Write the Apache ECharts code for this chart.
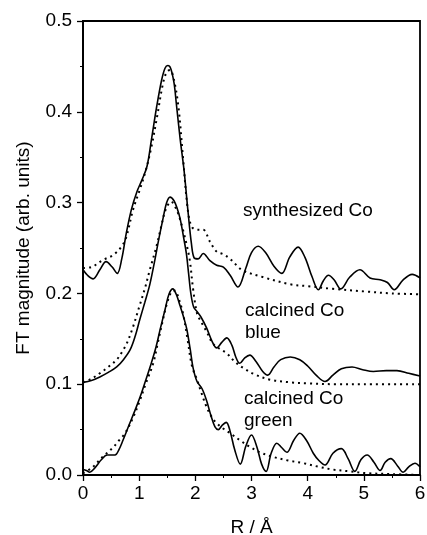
<!DOCTYPE html>
<html>
<head>
<meta charset="utf-8">
<script src="https://cdn.jsdelivr.net/npm/echarts@6/dist/echarts.min.js"></script>
<style>
  html, body { margin: 0; padding: 0; background: #fff; }
  #chart { width: 427px; height: 535px; }
</style>
</head>
<body>
<div id="chart"></div>
<script>
// FT magnitude versus R for the three Co samples: measured (solid) and fitted (dotted)
var xTicks = [0, 1, 2, 3, 4, 5, 6];
var yTicks = [0.0, 0.1, 0.2, 0.3, 0.4, 0.5];
var sampleLabels = ['synthesized Co', 'calcined Co\nblue', 'calcined Co\ngreen'];

var synthesizedExp = [[0,0.226],[0.08,0.220],[0.18,0.216],[0.3,0.226],[0.41,0.235],[0.52,0.229],[0.61,0.222],[0.69,0.238],[0.77,0.266],[0.86,0.292],[0.96,0.312],[1.05,0.325],[1.14,0.340],[1.22,0.370],[1.31,0.405],[1.40,0.435],[1.46,0.448],[1.51,0.451],[1.56,0.448],[1.62,0.432],[1.66,0.410],[1.73,0.370],[1.80,0.335],[1.87,0.290],[1.93,0.255],[1.98,0.239],[2.05,0.238],[2.14,0.244],[2.26,0.236],[2.38,0.231],[2.5,0.229],[2.62,0.220],[2.76,0.207],[2.9,0.228],[3.0,0.245],[3.12,0.252],[3.25,0.245],[3.4,0.230],[3.54,0.222],[3.68,0.240],[3.83,0.251],[3.95,0.240],[4.08,0.218],[4.19,0.204],[4.28,0.214],[4.37,0.220],[4.47,0.215],[4.59,0.205],[4.75,0.218],[4.93,0.226],[5.11,0.217],[5.29,0.215],[5.42,0.212],[5.54,0.204],[5.7,0.215],[5.86,0.221],[6,0.217]];
var synthesizedFit = [[0,0.228],[0.15,0.229],[0.36,0.237],[0.53,0.242],[0.68,0.251],[0.77,0.262],[0.89,0.292],[1.01,0.314],[1.12,0.336],[1.22,0.362],[1.32,0.395],[1.42,0.430],[1.49,0.444],[1.55,0.446],[1.62,0.435],[1.70,0.405],[1.78,0.350],[1.87,0.290],[1.94,0.273],[2.04,0.270],[2.14,0.270],[2.26,0.257],[2.38,0.246],[2.5,0.243],[2.62,0.238],[2.75,0.230],[2.85,0.225],[3.2,0.218],[3.69,0.210],[4.0,0.208],[4.45,0.205],[5.05,0.202],[5.5,0.200],[6,0.199]];

var blueExp = [[0,0.102],[0.15,0.104],[0.3,0.108],[0.45,0.113],[0.6,0.119],[0.72,0.127],[0.84,0.138],[0.93,0.153],[1.01,0.171],[1.1,0.190],[1.19,0.210],[1.28,0.237],[1.35,0.260],[1.42,0.281],[1.49,0.300],[1.55,0.306],[1.62,0.302],[1.68,0.293],[1.73,0.282],[1.79,0.262],[1.84,0.244],[1.88,0.222],[1.92,0.200],[1.97,0.185],[2.03,0.180],[2.1,0.174],[2.2,0.162],[2.3,0.147],[2.38,0.140],[2.47,0.146],[2.56,0.151],[2.65,0.143],[2.72,0.130],[2.79,0.123],[2.88,0.129],[2.97,0.132],[3.08,0.125],[3.2,0.114],[3.29,0.110],[3.4,0.119],[3.52,0.127],[3.69,0.130],[3.86,0.127],[4.0,0.120],[4.15,0.110],[4.31,0.103],[4.45,0.110],[4.6,0.117],[4.79,0.119],[4.98,0.116],[5.17,0.114],[5.4,0.115],[5.59,0.115],[5.8,0.112],[6,0.109]];
var blueFit = [[0,0.102],[0.15,0.106],[0.3,0.112],[0.45,0.119],[0.6,0.127],[0.7,0.136],[0.78,0.145],[0.89,0.163],[1.01,0.187],[1.1,0.205],[1.19,0.226],[1.3,0.250],[1.39,0.273],[1.47,0.292],[1.57,0.301],[1.66,0.293],[1.72,0.283],[1.78,0.270],[1.84,0.255],[1.9,0.237],[1.96,0.205],[2.03,0.178],[2.1,0.169],[2.2,0.158],[2.31,0.145],[2.43,0.139],[2.56,0.134],[2.7,0.125],[2.85,0.118],[3.05,0.111],[3.33,0.105],[3.7,0.102],[4.0,0.101],[4.5,0.100],[5,0.100],[6,0.100]];

var greenExp = [[0,0.006],[0.06,0.005],[0.12,0.003],[0.2,0.007],[0.33,0.017],[0.43,0.022],[0.57,0.022],[0.64,0.028],[0.71,0.038],[0.82,0.055],[0.95,0.075],[1.04,0.090],[1.12,0.105],[1.21,0.122],[1.30,0.141],[1.38,0.162],[1.46,0.182],[1.53,0.199],[1.60,0.205],[1.66,0.199],[1.73,0.186],[1.8,0.172],[1.85,0.160],[1.91,0.138],[1.96,0.118],[2.03,0.103],[2.12,0.095],[2.2,0.082],[2.28,0.065],[2.35,0.053],[2.41,0.050],[2.48,0.055],[2.55,0.058],[2.62,0.048],[2.7,0.028],[2.8,0.012],[2.9,0.032],[3.0,0.044],[3.1,0.030],[3.18,0.012],[3.26,0.004],[3.35,0.024],[3.45,0.035],[3.54,0.030],[3.63,0.025],[3.75,0.038],[3.86,0.046],[3.98,0.038],[4.1,0.024],[4.2,0.016],[4.31,0.011],[4.45,0.024],[4.6,0.029],[4.72,0.018],[4.84,0.004],[4.95,0.017],[5.06,0.022],[5.18,0.014],[5.29,0.005],[5.38,0.014],[5.48,0.018],[5.6,0.010],[5.7,0.003],[5.8,0.009],[5.91,0.013],[6,0.009]];
var greenFit = [[0,0.002],[0.16,0.008],[0.35,0.020],[0.53,0.030],[0.64,0.038],[0.75,0.046],[0.89,0.063],[1.0,0.080],[1.12,0.101],[1.25,0.123],[1.33,0.145],[1.42,0.170],[1.5,0.190],[1.58,0.202],[1.64,0.203],[1.7,0.195],[1.78,0.178],[1.86,0.150],[1.94,0.120],[2.03,0.105],[2.1,0.092],[2.2,0.075],[2.3,0.063],[2.38,0.057],[2.5,0.051],[2.62,0.046],[2.8,0.038],[2.97,0.031],[3.15,0.025],[3.38,0.020],[3.65,0.016],[3.92,0.013],[4.2,0.009],[4.45,0.006],[4.75,0.004],[5.05,0.002],[5.5,0.001],[6,0.000]];

var FONT = '"Liberation Sans", Arial, sans-serif';

function solid(data) {
  return {
    type: 'line', data: data, smooth: 0.35, symbol: 'none', silent: true,
    lineStyle: { color: '#000', width: 1.6 }
  };
}
function dotted(data) {
  return {
    type: 'line', data: data, smooth: 0.35, symbol: 'none', silent: true,
    lineStyle: { color: '#000', width: 2, type: [2, 4] }
  };
}

var chart = echarts.init(document.getElementById('chart'), null, { renderer: 'canvas' });
chart.setOption({
  animation: false,
  backgroundColor: '#fff',
  grid: {
    left: 83, right: 7, top: 21, bottom: 60,
    containLabel: false, outerBoundsMode: 'none',
    show: true, borderColor: '#000', borderWidth: 1.8, backgroundColor: 'transparent'
  },
  xAxis: {
    type: 'value', min: xTicks[0], max: xTicks[xTicks.length - 1], interval: 1,
    name: 'R / Å', nameLocation: 'middle', nameGap: 43,
    nameTextStyle: { fontFamily: FONT, fontSize: 19, color: '#000' },
    axisLine: { show: true, lineStyle: { color: '#000', width: 2 } },
    axisTick: { show: true, inside: false, length: 6, lineStyle: { color: '#000', width: 1.3 } },
    minorTick: { show: true, splitNumber: 2, length: 3, lineStyle: { color: '#000', width: 1 } },
    splitLine: { show: false },
    axisLabel: { fontFamily: FONT, fontSize: 19, color: '#000', margin: 9 }
  },
  yAxis: {
    type: 'value', min: yTicks[0], max: yTicks[yTicks.length - 1], interval: 0.1,
    name: 'FT magnitude (arb. units)', nameLocation: 'middle', nameGap: 50, nameRotate: 90,
    nameTextStyle: { fontFamily: FONT, fontSize: 19, color: '#000' },
    axisLine: { show: true, lineStyle: { color: '#000', width: 2 } },
    axisTick: { show: true, inside: false, length: 6, lineStyle: { color: '#000', width: 1.3 } },
    minorTick: { show: true, splitNumber: 2, length: 3, lineStyle: { color: '#000', width: 1 } },
    splitLine: { show: false },
    axisLabel: {
      fontFamily: FONT, fontSize: 19, color: '#000', margin: 11,
      formatter: function (v) { return v.toFixed(1); }
    }
  },
  series: [
    solid(synthesizedExp), dotted(synthesizedFit),
    solid(blueExp), dotted(blueFit),
    solid(greenExp), dotted(greenFit)
  ],
  graphic: [
    { type: 'text', left: 243, top: 201, style: { text: sampleLabels[0], font: '19px ' + FONT, fill: '#000' } },
    { type: 'text', left: 245, top: 300, style: { text: sampleLabels[1], font: '19px ' + FONT, fill: '#000', lineHeight: 22 } },
    { type: 'text', left: 244, top: 388, style: { text: sampleLabels[2], font: '19px ' + FONT, fill: '#000', lineHeight: 22 } }
  ]
});
</script>
</body>
</html>
